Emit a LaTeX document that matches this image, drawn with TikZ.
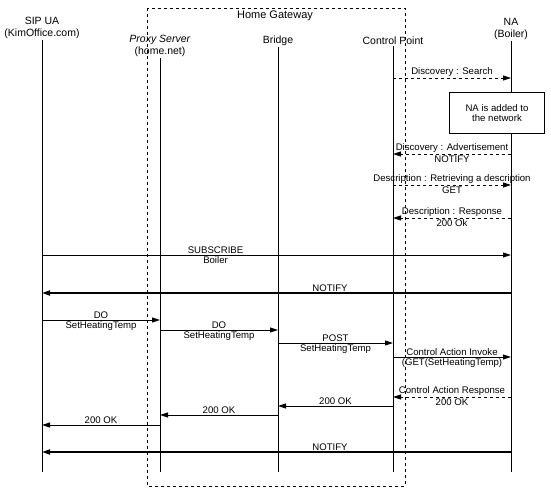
\documentclass[tikz,border=0pt]{standalone}
\usepackage{fontspec}
\setmainfont{Liberation Sans}
\usetikzlibrary{arrows.meta, positioning, calc}

\begin{document}
\begin{tikzpicture}[
    x=1pt, y=-1pt,
    every node/.style={font=\fontsize{9.6}{10.5}\selectfont, inner sep=1pt},
    head/.style={align=center, font=\fontsize{10.5}{11.5}\selectfont},
    lifeline/.style={draw, line width=0.9pt},
    msg/.style={draw, line width=1pt, -{Triangle[length=8pt, width=5pt]}},
    dmsg/.style={msg, dashed, line width=0.8pt},
    heavy/.style={msg, line width=1.8pt},
    note/.style={draw, fill=white, thick, align=center, minimum width=95pt, minimum height=41pt},
    gateway/.style={draw, dashed, line width=0.9pt}
]
\useasboundingbox (0,0) rectangle (551,489);

\node[font=\fontsize{11}{12}\selectfont] (hg) at (275,16) {Home Gateway};
\draw[gateway] (147,8) rectangle (405,486);

\node[head] (sip) at (42,28) {SIP UA\\(KimOffice.com)};
\node[head] (proxy) at (160,46) {\textit{Proxy Server}\\(home.net)};
\node[head] (bridge) at (278,41) {Bridge};
\node[head] (cp) at (393,41) {Control Point};
\node[head] (na) at (511,29) {NA\\(Boiler)};

\foreach \who in {sip, proxy, bridge, cp, na}
    \draw[lifeline] (\who.south) -- (\who |- 0,472);

\node[note] (added) at (497,113) {NA is added to\\the network};

\draw[dmsg] (cp |- 0,78) -- node[above] {Discovery : Search} (na |- 0,78);
\draw[dmsg] (na |- 0,154) -- node[above] {Discovery : Advertisement} node[below] {NOTIFY} (cp |- 0,154);
\draw[dmsg] (cp |- 0,185) -- node[above] {Description : Retrieving a description} node[below] {GET} (na |- 0,185);
\draw[dmsg] (na |- 0,218) -- node[above] {Description : Response} node[below] {200 Ok} (cp |- 0,218);

\draw[msg] (sip |- 0,255) -- node[above, pos=0.37] {SUBSCRIBE} node[below, pos=0.37] {Boiler} (na |- 0,255);
\draw[heavy] (na |- 0,293) -- node[above, pos=0.386] {NOTIFY} (sip |- 0,293);

\draw[msg] (sip |- 0,320) -- node[above] {DO} node[below] {SetHeatingTemp} (proxy |- 0,320);
\draw[msg] (proxy |- 0,330) -- node[above] {DO} node[below] {SetHeatingTemp} (bridge |- 0,330);
\draw[msg] (bridge |- 0,343) -- node[above] {POST} node[below] {SetHeatingTemp} (cp |- 0,343);
\draw[msg] (cp |- 0,357) -- node[above] {Control Action Invoke} node[below] {(GET(SetHeatingTemp)} (na |- 0,357);

\draw[dmsg] (na |- 0,397) -- node[above] {Control Action Response} node[below] {200 OK} (cp |- 0,397);
\draw[msg] (cp |- 0,406) -- node[above] {200 OK} (bridge |- 0,406);
\draw[msg] (bridge |- 0,415) -- node[above] {200 OK} (proxy |- 0,415);
\draw[msg] (proxy |- 0,425) -- node[above] {200 OK} (sip |- 0,425);

\draw[heavy] (na |- 0,452) -- node[above, pos=0.386] {NOTIFY} (sip |- 0,452);
\end{tikzpicture}
\end{document}
